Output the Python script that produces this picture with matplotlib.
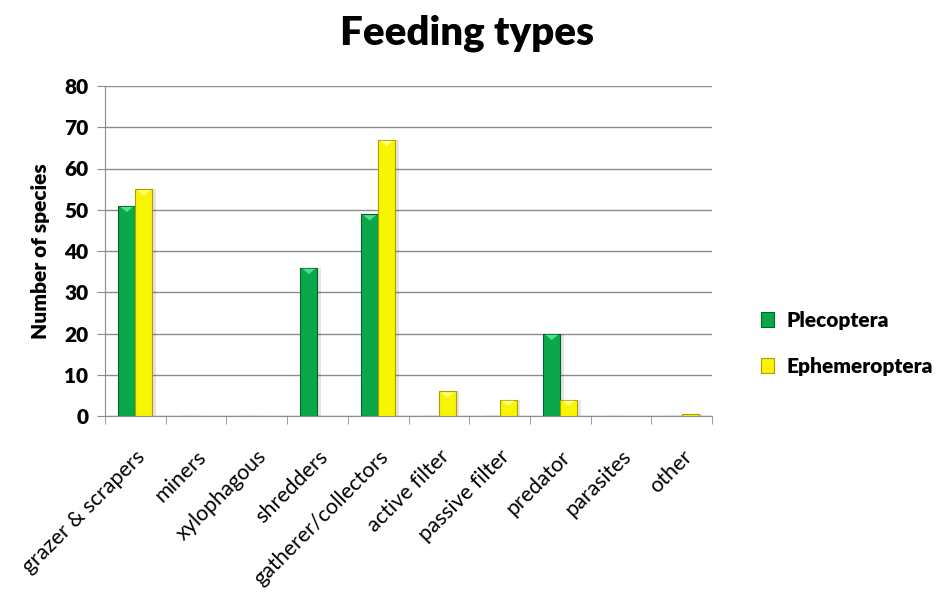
import matplotlib
matplotlib.use("Agg")
import matplotlib.pyplot as plt
import numpy as np
from matplotlib.patches import Polygon

categories = ["grazer & scrapers", "miners", "xylophagous", "shredders",
              "gatherer/collectors", "active filter", "passive filter",
              "predator", "parasites", "other"]
plecoptera = [51, 0, 0, 36, 49, 0, 0, 20, 0, 0]
ephemeroptera = [55, 0, 0, 0, 67, 6, 4, 4, 0, 0.5]
yticks = [0, 10, 20, 30, 40, 50, 60, 70, 80]

plt.rcParams['font.family'] = ['Lato', 'DejaVu Sans']

fig = plt.figure(figsize=(9.35, 5.99), dpi=100)
ax = fig.add_axes([105/935, 1 - 416/599, (712-105)/935, (416-86)/599])

x = np.arange(len(categories))
w = 0.28
green = "#0aa84a"
green_edge = "#06612a"
green_top = "#4de08a"
yellow = "#f8f500"
yellow_edge = "#a8a000"
yellow_top = "#ffff80"

# soft drop shadows behind the bars
for xs, vals in ((x - w/2, plecoptera), (x + w/2, ephemeroptera)):
    for xi, v in zip(xs, vals):
        if v > 0:
            ax.bar(xi + 0.06, v, width=w, bottom=0, color="#000000",
                   alpha=0.10, zorder=2, linewidth=0)

bars_p = ax.bar(x - w/2, plecoptera, width=w, color=green, edgecolor=green_edge,
                linewidth=0.8, zorder=3, label="Plecoptera")
bars_e = ax.bar(x + w/2, ephemeroptera, width=w, color=yellow, edgecolor=yellow_edge,
                linewidth=0.8, zorder=3, label="Ephemeroptera")

# bevelled caps on the bar tops
for bars, cap in ((bars_p, green_top), (bars_e, yellow_top)):
    for b in bars:
        h = b.get_height()
        if h >= 2:
            x0 = b.get_x()
            bw = b.get_width()
            tri = Polygon([[x0 + bw*0.12, h - 0.3], [x0 + bw*0.88, h - 0.3],
                           [x0 + bw*0.5, h - 1.6]], closed=True,
                          facecolor=cap, edgecolor="none", zorder=4)
            ax.add_patch(tri)

ax.set_xlim(-0.5, len(categories) - 0.5)
ax.set_ylim(0, 80)
ax.set_yticks(yticks)
ax.set_yticklabels([str(t) for t in yticks], fontsize=15, fontweight="heavy")
ax.yaxis.grid(True, color="#8c8c8c", linewidth=1.0, zorder=0)
ax.set_axisbelow(True)

ax.set_xticks(x)
ax.set_xticklabels(categories, rotation=45, ha="right", rotation_mode="anchor",
                   fontsize=15.5)
ax.set_xticks(np.arange(-0.5, len(categories)), minor=True)
ax.tick_params(axis="x", which="major", length=0, pad=22)
ax.tick_params(axis="x", which="minor", length=6, color="#8c8c8c")
ax.tick_params(axis="y", length=6, color="#8c8c8c", pad=6)

for s in ("top", "right"):
    ax.spines[s].set_visible(False)
for s in ("left", "bottom"):
    ax.spines[s].set_color("#8c8c8c")

ax.set_ylabel("Number of species", fontsize=15, fontweight="heavy", labelpad=10)

fig.text(0.5, 0.945, "Feeding types", ha="center", va="center",
         fontsize=29, fontweight="heavy")

leg = ax.legend(loc="center left", bbox_to_anchor=(1.05, 0.22), frameon=False,
                prop={"weight": "heavy", "size": 15}, handlelength=0.6,
                handleheight=0.7, labelspacing=1.3, handletextpad=0.6)

fig.savefig("out.png", dpi=100)
